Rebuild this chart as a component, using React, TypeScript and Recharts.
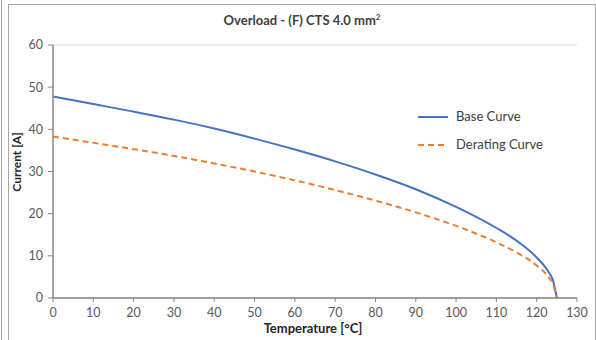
// @ts-nocheck
import React from "react";
import {
  LineChart,
  Line,
  XAxis,
  YAxis,
  CartesianGrid,
} from "recharts";

const temperatures = [0, 10, 20, 30, 40, 50, 60, 70, 80, 90, 100, 110, 115, 120, 123, 124, 125];
const baseCurrent = [47.8, 46.0, 44.2, 42.3, 40.2, 37.8, 35.2, 32.4, 29.3, 25.8, 21.6, 16.6, 13.6, 9.6, 6.1, 4.3, 0];
const deratingCurrent = [38.3, 36.8, 35.3, 33.7, 31.9, 30.0, 27.9, 25.6, 23.1, 20.3, 17.1, 13.2, 10.8, 7.7, 4.9, 3.4, 0];
const xTicks = [0, 10, 20, 30, 40, 50, 60, 70, 80, 90, 100, 110, 120, 130];
const yTicks = [0, 10, 20, 30, 40, 50, 60];

const data = temperatures.map((t, i) => ({
  temp: t,
  base: baseCurrent[i],
  derating: deratingCurrent[i],
}));

const font = "Lato, 'Open Sans', sans-serif";
const tickStyle = { fontSize: 12.5, fill: "#595959", fontFamily: font };

export default function App() {
  return (
    <div style={{ position: "absolute", left: 0, top: 0, width: 596, height: 340, background: "#fff", overflow: "hidden" }}>
      {/* frame lines */}
      <div style={{ position: "absolute", left: 1, top: 0, width: 1, height: 340, background: "#a6a6a6" }} />
      <div style={{ position: "absolute", left: 8, top: 4, width: 586, height: 400, border: "1px solid #a6a6a6" }} />
      <div style={{ position: "absolute", left: 0, top: 12, width: 596, textAlign: "center", paddingLeft: 8, boxSizing: "border-box", fontFamily: font, fontWeight: 700, fontSize: 13, color: "#404040" }}>
        Overload - (F) CTS 4.0 mm<sup style={{ fontSize: 8 }}>2</sup>
      </div>
      <div style={{ position: "absolute", left: 0, top: 0 }}>
        <LineChart width={596} height={340} data={data} margin={{ top: 45, right: 19, left: 23, bottom: 12 }}>
          <CartesianGrid vertical={false} stroke="#d9d9d9" />
          <XAxis
            dataKey="temp"
            type="number"
            domain={[0, 130]}
            ticks={xTicks}
            interval={0}
            height={30}
            tick={tickStyle}
            tickSize={4}
            tickMargin={6}
            stroke="#868686"
            axisLine={{ stroke: "#868686", strokeWidth: 1.5 }}
          />
          <YAxis
            yAxisId="left"
            type="number"
            domain={[0, 60]}
            ticks={yTicks}
            width={30}
            tick={tickStyle}
            tickSize={5}
            tickMargin={5}
            stroke="#868686"
            axisLine={{ stroke: "#868686", strokeWidth: 1.5 }}
          />
          <YAxis
            yAxisId="right"
            orientation="right"
            width={0}
            tick={false}
            tickLine={false}
            axisLine={{ stroke: "#868686", strokeWidth: 1.5 }}
            domain={[0, 60]}
          />
          <Line
            yAxisId="left"
            type="monotone"
            dataKey="base"
            stroke="#4472C4"
            strokeWidth={2}
            dot={false}
            isAnimationActive={false}
          />
          <Line
            yAxisId="left"
            type="monotone"
            dataKey="derating"
            stroke="#ED7D31"
            strokeWidth={2}
            strokeDasharray="6 4"
            dot={false}
            isAnimationActive={false}
          />
          <text x={18} y={162} transform="rotate(-90 18 162)" textAnchor="middle" dominantBaseline="middle" fontFamily={font} fontWeight={700} fontSize={12} fill="#262626">
            Current [A]
          </text>
          <text x={313} y={333} textAnchor="middle" fontFamily={font} fontWeight={700} fontSize={13} fill="#262626">
            Temperature [°C]
          </text>
          {/* legend */}
          <line x1={418} x2={448} y1={117} y2={117} stroke="#4472C4" strokeWidth={2} />
          <text x={456} y={121} fontFamily={font} fontSize={13} fill="#404040">Base Curve</text>
          <line x1={418} x2={448} y1={145} y2={145} stroke="#ED7D31" strokeWidth={2} strokeDasharray="6 4" />
          <text x={456} y={149} fontFamily={font} fontSize={13} fill="#404040">Derating Curve</text>
        </LineChart>
      </div>
    </div>
  );
}
